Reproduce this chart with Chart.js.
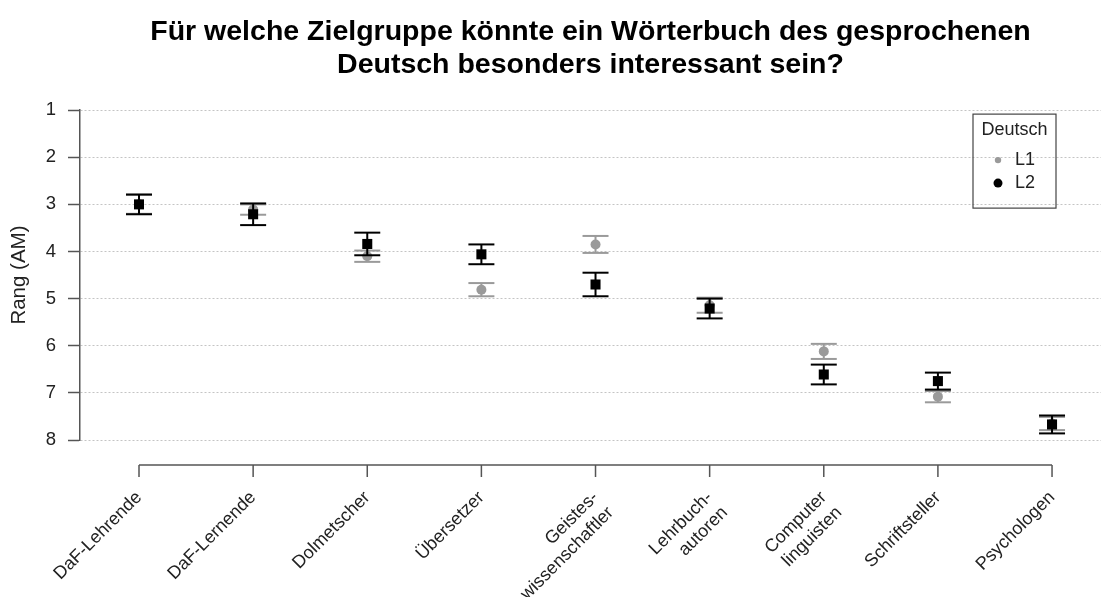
<!DOCTYPE html>
<html><head><meta charset="utf-8">
<script src="https://cdn.jsdelivr.net/npm/chart.js@4/dist/chart.umd.min.js"></script>
<style>html,body{margin:0;padding:0;background:#fff}#wrap{width:1101px;height:597px;position:relative}</style>
</head><body><div id="wrap"><canvas id="c" width="1101" height="597"></canvas></div>
<script>
const categories = [['DaF-Lehrende'], ['DaF-Lernende'], ['Dolmetscher'], ['Übersetzer'], ['Geistes-', 'wissenschaftler'], ['Lehrbuch-', 'autoren'], ['Computer', 'linguisten'], ['Schriftsteller'], ['Psychologen']];
const l1Mean = [3.00, 3.11, 4.10, 4.81, 3.85, 5.14, 6.12, 7.08, 7.65];
const l1Err  = [0.20, 0.11, 0.12, 0.14, 0.18, 0.16, 0.16, 0.12, 0.14];
const l2Mean = [3.00, 3.21, 3.84, 4.06, 4.70, 5.21, 6.61, 6.75, 7.67];
const l2Err  = [0.21, 0.23, 0.24, 0.21, 0.25, 0.21, 0.21, 0.18, 0.19];
const yTicks = [1, 2, 3, 4, 5, 6, 7, 8];
const seriesNames = ['L1', 'L2'];
const legendTitle = 'Deutsch';
const chartTitle = ['Für welche Zielgruppe könnte ein Wörterbuch des gesprochenen', 'Deutsch besonders interessant sein?'];
const yTitle = 'Rang (AM)';

const FONT = "'Liberation Sans', Arial, Helvetica, sans-serif";
const L1_COLOR = '#9a9a9a';
const L2_COLOR = '#000000';
const AXIS_COLOR = '#555555';
const TEXT_COLOR = '#222222';

function points(mean) { return mean.map((m, i) => ({x: i + 1, y: m})); }
function whiskers(mean, err) {
  const out = [];
  mean.forEach((m, i) => {
    out.push({x: i + 1, y: m - err[i]}, {x: i + 1, y: m + err[i]}, {x: i + 1.5, y: null});
  });
  return out;
}

const offsetAxisPlugin = {
  id: 'offsetAxis',
  afterDraw(chart) {
    const xs = chart.scales.x, ctx = chart.ctx;
    const y0 = chart.chartArea.bottom + 25;
    const x1 = xs.getPixelForValue(1), x2 = xs.getPixelForValue(categories.length);
    ctx.save();
    ctx.strokeStyle = AXIS_COLOR; ctx.lineWidth = 1.5;
    ctx.beginPath();
    ctx.moveTo(x1, y0); ctx.lineTo(x2, y0);
    categories.forEach((c, i) => {
      const px = xs.getPixelForValue(i + 1);
      ctx.moveTo(px, y0); ctx.lineTo(px, y0 + 12);
    });
    ctx.stroke();
    ctx.restore();
  }
};

const boxLegendPlugin = {
  id: 'boxLegend',
  afterDraw(chart) {
    const ctx = chart.ctx, ca = chart.chartArea;
    const left = ca.right - 128, top = ca.top + 4, w = 83, h = 94;
    ctx.save();
    ctx.strokeStyle = '#444'; ctx.lineWidth = 1.2;
    ctx.strokeRect(left, top, w, h);
    ctx.fillStyle = TEXT_COLOR;
    ctx.font = '18px ' + FONT;
    ctx.textBaseline = 'middle';
    ctx.textAlign = 'center';
    ctx.fillText(legendTitle, left + w / 2, top + 16);
    ctx.textAlign = 'left';
    const cols = [L1_COLOR, L2_COLOR], rads = [3.2, 4.5];
    seriesNames.forEach((n, i) => {
      const yy = top + 46 + i * 23;
      ctx.fillStyle = cols[i];
      ctx.beginPath(); ctx.arc(left + 25, yy, rads[i], 0, Math.PI * 2); ctx.fill();
      ctx.fillStyle = TEXT_COLOR;
      ctx.fillText(n, left + 42, yy);
    });
    ctx.restore();
  }
};

new Chart(document.getElementById('c'), {
  type: 'scatter',
  data: {
    datasets: [
      {label: seriesNames[1], data: points(l2Mean), pointStyle: 'rect', pointRadius: 7.1, backgroundColor: L2_COLOR, borderColor: L2_COLOR, pointBorderWidth: 0, order: 0},
      {label: seriesNames[1] + ' err', data: whiskers(l2Mean, l2Err), showLine: true, spanGaps: false, borderColor: L2_COLOR, borderWidth: 2, pointStyle: 'line', pointRadius: 13, pointBorderWidth: 2, pointBorderColor: L2_COLOR, order: 1},
      {label: seriesNames[0], data: points(l1Mean), pointStyle: 'circle', pointRadius: 5, backgroundColor: L1_COLOR, borderColor: L1_COLOR, pointBorderWidth: 0, order: 2},
      {label: seriesNames[0] + ' err', data: whiskers(l1Mean, l1Err), showLine: true, spanGaps: false, borderColor: L1_COLOR, borderWidth: 2, pointStyle: 'line', pointRadius: 13, pointBorderWidth: 2, pointBorderColor: L1_COLOR, order: 3}
    ]
  },
  options: {
    responsive: false,
    animation: false,
    events: [],
    layout: {padding: 0, autoPadding: false},
    plugins: {
      legend: {display: false},
      tooltip: {enabled: false},
      title: {display: true, text: chartTitle, fullSize: false, color: '#000', font: {family: FONT, size: 28.5, weight: 'bold', lineHeight: 1.16}, padding: {top: 16, bottom: 28}}
    },
    scales: {
      x: {
        type: 'linear', min: 0.483, max: 9.429,
        afterBuildTicks: s => { s.ticks = categories.map((c, i) => ({value: i + 1})); },
        afterFit: s => { s.height = 157; s.paddingLeft = 0; s.paddingRight = 0; },
        grid: {display: false, drawTicks: false},
        border: {display: false},
        ticks: {autoSkip: false, minRotation: 45, maxRotation: 45, padding: 47, color: TEXT_COLOR, font: {family: FONT, size: 18}, callback: v => categories[v - 1]}
      },
      y: {
        type: 'linear', reverse: true, min: 1, max: 8,
        afterBuildTicks: s => { s.ticks = yTicks.map(v => ({value: v})); },
        afterFit: s => { s.width = 80; },
        grid: {color: '#c4c4c4', lineWidth: 1, tickLength: 12, tickColor: AXIS_COLOR, tickWidth: 1.5},
        border: {display: true, color: AXIS_COLOR, width: 1.5, dash: [2, 2]},
        ticks: {padding: 12, color: TEXT_COLOR, font: {family: FONT, size: 18.5}},
        title: {display: true, text: yTitle, color: TEXT_COLOR, font: {family: FONT, size: 20.5}, padding: {top: 7, bottom: 0}}
      }
    }
  },
  plugins: [offsetAxisPlugin, boxLegendPlugin]
});
</script>
</body></html>
